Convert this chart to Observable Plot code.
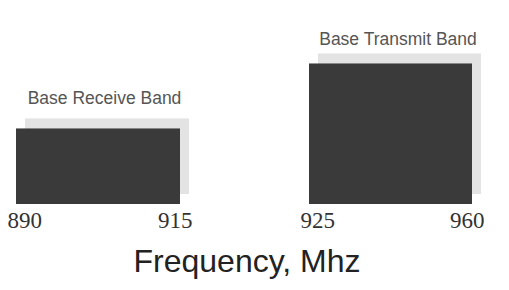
<!DOCTYPE html>
<html>
<head>
<meta charset="utf-8">
<script src="https://cdn.jsdelivr.net/npm/d3@7"></script>
<script src="https://cdn.jsdelivr.net/npm/@observablehq/plot@0.6"></script>
<style>
  html, body { margin: 0; padding: 0; background: #fff; }
  #chart svg { display: block; }
</style>
</head>
<body>
<div id="chart"></div>
<script>
const bandNames = ["Base Receive Band", "Base Transmit Band"];
const bandStart = [890, 925];   // MHz
const bandEnd   = [915, 960];   // MHz
const bandLevel = [1.0, 1.86];  // relative height
const axisTitle = "Frequency, Mhz";

const data = bandNames.map((name, i) => ({
  name, x1: bandStart[i], x2: bandEnd[i], y: bandLevel[i]
}));
const starts = data.map(d => ({x: d.x1, label: String(d.x1)}));
const ends = data.map(d => ({x: d.x2, label: String(d.x2)}));

const chart = Plot.plot({
  width: 509,
  height: 290,
  marginTop: 0,
  marginBottom: 86,
  marginLeft: 0,
  marginRight: 16,
  style: {background: "#fff"},
  x: {type: "linear", domain: [890, 915, 925, 960], range: [16, 180, 309, 472], axis: null},
  y: {domain: [0, 2.7], axis: null},
  marks: [
    Plot.rectY(data, {x1: "x1", x2: "x2", y: "y", fill: "#e3e3e3", dx: 9, dy: -10}),
    Plot.rectY(data, {x1: "x1", x2: "x2", y: "y", fill: "#3a3a3a"}),
    Plot.text(data.filter((d, i) => i === 0), {
      x: d => (d.x1 + d.x2) / 2, y: "y", text: "name", dx: 6, dy: -31,
      fontFamily: "Liberation Sans", fontSize: 17.5, fill: "#555", letterSpacing: "-0.3px"
    }),
    Plot.text(data.filter((d, i) => i === 1), {
      x: d => (d.x1 + d.x2) / 2, y: "y", text: "name", dx: 7, dy: -25,
      fontFamily: "Liberation Sans", fontSize: 17.5, fill: "#555", letterSpacing: "-0.3px"
    }),
    Plot.text(starts, {
      x: "x", y: () => 0, text: "label", textAnchor: "start", dx: -9, dy: 16,
      fontFamily: "Liberation Serif", fontSize: 23, fill: "#333"
    }),
    Plot.text(ends, {
      x: "x", y: () => 0, text: "label", textAnchor: "end", dx: 12, dy: 16,
      fontFamily: "Liberation Serif", fontSize: 23, fill: "#333"
    }),
    Plot.text([axisTitle], {
      frameAnchor: "bottom", text: d => d, dy: 67,
      fontFamily: "Liberation Sans", fontSize: 32, fill: "#222"
    })
  ]
});
document.getElementById("chart").append(chart);
</script>
</body>
</html>
